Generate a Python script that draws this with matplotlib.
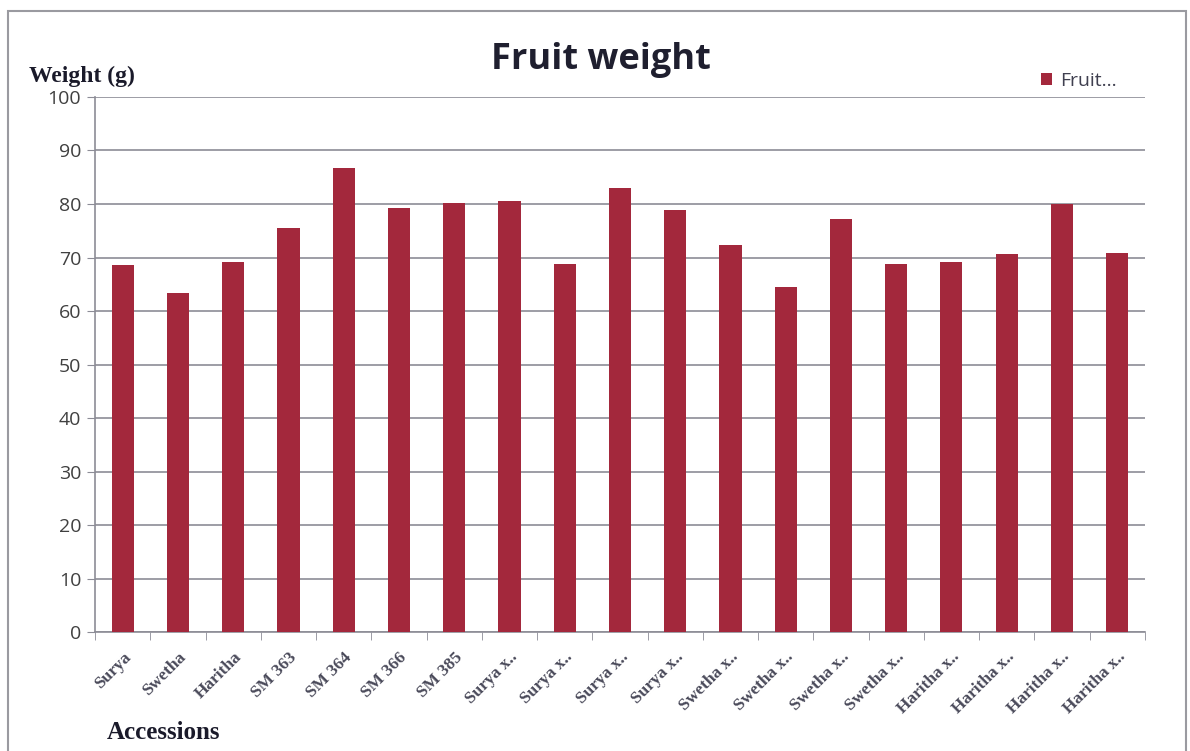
import matplotlib.pyplot as plt
import numpy as np
from matplotlib.patches import Rectangle

# accessions and mean fruit weight (g)
accessions = ["Surya", "Swetha", "Haritha", "SM 363", "SM 364", "SM 366", "SM 385",
              "Surya x..", "Surya x..", "Surya x..", "Surya x..",
              "Swetha x..", "Swetha x..", "Swetha x..", "Swetha x..",
              "Haritha x..", "Haritha x..", "Haritha x..", "Haritha x.."]
fruit_weight = [68.6, 63.4, 69.1, 75.5, 86.7, 79.3, 80.2, 80.5, 68.7, 83.0, 78.9,
                72.3, 64.5, 77.2, 68.8, 69.2, 70.7, 80.0, 70.9]
y_ticks = [0, 10, 20, 30, 40, 50, 60, 70, 80, 90, 100]

bar_color = "#a3283c"
grid_color = "#8c8c96"

fig = plt.figure(figsize=(11.9, 7.51), dpi=100)
ax = fig.add_axes([0.080, 0.158, 0.882, 0.713])

x = np.arange(len(accessions))
ax.bar(x, fruit_weight, width=0.4, color=bar_color, zorder=3, label="Fruit...")

ax.set_ylim(0, 100)
ax.set_xlim(-0.5, len(accessions) - 0.5)
ax.set_yticks(y_ticks)
ax.set_yticklabels([str(v) for v in y_ticks], fontsize=14, color="#404040",
                   family="Open Sans")
ax.yaxis.grid(True, color=grid_color, linewidth=1.2, zorder=0)
ax.tick_params(axis="y", length=6, color=grid_color, pad=4)

# Excel-style ticks between categories
ax.set_xticks(x)
ax.set_xticklabels(accessions, rotation=45, ha="right", rotation_mode="anchor",
                   fontsize=12.5, family="Liberation Serif", fontweight="bold",
                   color="#4a4a5a")
ax.tick_params(axis="x", length=0, pad=12)
ax.set_xticks(np.arange(-0.5, len(accessions), 1.0), minor=True)
ax.tick_params(axis="x", which="minor", length=6, color=grid_color)

for side in ["top", "right"]:
    ax.spines[side].set_visible(False)
ax.spines["left"].set_color(grid_color)
ax.spines["bottom"].set_color(grid_color)
ax.spines["left"].set_linewidth(1.2)
ax.spines["bottom"].set_linewidth(1.2)

fig.text(0.505, 0.920, "Fruit weight", ha="center", va="center", fontsize=26,
         fontweight="bold", family="Open Sans", color="#1f1f2f")
fig.text(0.024, 0.898, "Weight (g)", ha="left", va="center", fontsize=17,
         fontweight="bold", family="Liberation Serif", color="#1a1a2a")
fig.text(0.090, 0.024, "Accessions", ha="left", va="center", fontsize=18,
         fontweight="bold", family="Liberation Serif", color="#1a1a2a")

leg = ax.legend(loc="upper right", bbox_to_anchor=(0.99, 1.08), frameon=False,
                handlelength=0.6, handleheight=0.6, handletextpad=0.4,
                prop={"family": "Open Sans", "size": 14})
for t in leg.get_texts():
    t.set_color("#404050")

# outer chart border
fig.patches.append(Rectangle((0.007, -0.01), 0.99, 0.995, transform=fig.transFigure,
                             fill=False, edgecolor="#9a9aa0", linewidth=1.5))

fig.savefig("out.png", dpi=100)
